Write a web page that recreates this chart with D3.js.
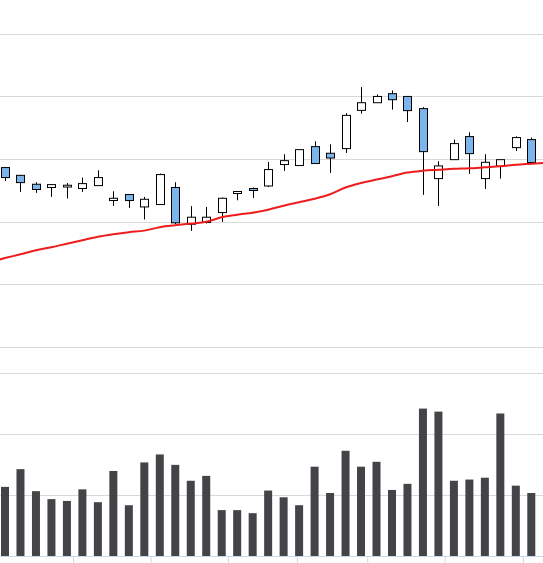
<!DOCTYPE html>
<html>
<head>
<meta charset="utf-8">
<script src="https://cdn.jsdelivr.net/npm/d3@7"></script>
<style>
  html, body { margin: 0; padding: 0; background: #fff; }
  svg { display: block; }
  .grid line { stroke: #d8d8d8; stroke-width: 1; }
  .wick { stroke: #000; stroke-width: 1; }
  .candle { stroke: #000; stroke-width: 1; }
</style>
</head>
<body>
<div id="chart"></div>
<script>
/* ============================================================
   Candlestick + SMA overlay with volume panel underneath
   ============================================================ */

// Daily OHLC, one entry per trading day
const opens  = [49.31, 48.69, 47.98, 47.72, 47.76, 47.64, 47.87, 46.68, 47.16, 46.17,
                46.36, 47.72, 44.79, 44.93, 45.72, 47.24, 47.64, 47.84, 49.55, 49.47,
                50.98, 50.45, 50.82, 53.87, 54.48, 55.20, 54.98, 54.01, 48.43, 49.94,
                51.78, 48.43, 49.41, 50.90, 51.54];
const highs  = [49.35, 48.72, 48.14, 47.97, 48.08, 48.51, 49.09, 47.42, 47.18, 46.97,
                48.83, 48.14, 46.23, 46.17, 46.92, 47.42, 47.72, 49.75, 50.37, 50.76,
                51.40, 51.16, 53.65, 55.73, 55.14, 55.46, 55.00, 54.13, 49.81, 51.54,
                52.12, 50.37, 49.96, 51.80, 51.70];
const lows   = [48.24, 47.37, 47.29, 46.97, 46.84, 47.37, 47.85, 46.25, 46.09, 45.17,
                46.34, 44.79, 44.26, 44.85, 44.98, 46.70, 46.89, 47.76, 49.04, 49.45,
                49.61, 48.88, 50.47, 53.61, 54.46, 53.93, 52.94, 47.13, 46.25, 49.92,
                48.80, 47.60, 48.43, 50.63, 49.70];
const closes = [48.51, 48.11, 47.56, 47.95, 47.90, 48.03, 48.51, 46.86, 46.68, 46.78,
                48.75, 44.90, 45.35, 45.35, 46.86, 47.40, 47.48, 49.15, 49.86, 50.74,
                49.63, 50.07, 53.47, 54.48, 54.98, 54.72, 53.85, 50.58, 49.44, 51.22,
                50.42, 49.73, 49.94, 51.70, 49.71];

// Volume in millions of shares
const volumes = [11.3, 14.2, 10.6, 9.3, 9.0, 10.9, 8.8, 13.9, 8.3, 15.3,
                 16.6, 14.9, 12.3, 13.1, 7.5, 7.5, 7.0, 10.7, 9.6, 8.3,
                 14.6, 10.3, 17.2, 14.6, 15.4, 10.8, 11.8, 24.1, 23.6, 12.3,
                 12.5, 12.8, 23.3, 11.5, 10.3];

// Moving average, from the day before the first candle to the day after the last
const smaStart = -1;
const sma = [41.77, 42.09, 42.40, 42.72, 42.96, 43.24, 43.52, 43.80, 44.00, 44.16,
             44.28, 44.55, 44.71, 44.84, 44.98, 45.35, 45.55, 45.71, 45.95, 46.27,
             46.54, 46.82, 47.18, 47.72, 48.08, 48.35, 48.62, 48.91, 49.05, 49.13,
             49.21, 49.25, 49.33, 49.41, 49.53, 49.61, 49.69];

// Week boundaries, in day units
const weekTicks = [4.4, 9.4, 14.4, 18.85, 23.4, 28.4, 33.45];

const priceTicks = [35, 40, 45, 50, 55, 60];
const volumeTicks = [10, 20, 30];

(() => {
  const width = 543;
  const height = 563;

  const days = opens.map((o, i) => ({
    i, open: o, high: highs[i], low: lows[i], close: closes[i], volume: volumes[i]
  }));
  const smaPoints = sma.map((v, k) => ({ i: smaStart + k, v }));

  const svg = d3.select('#chart')
    .append('svg')
    .attr('width', width)
    .attr('height', height);

  // Scales
  const x = d3.scaleLinear().domain([0, days.length - 1]).range([5, 531.3]);
  const yPrice = d3.scaleLinear().domain([35, 60]).range([347, 33.5]);
  const yVol = d3.scaleLinear().domain([0, 30]).range([556, 372.5]);

  const candleW = 8;
  const barW = 8;

  // Grid lines
  const grid = svg.append('g').attr('class', 'grid');
  grid.selectAll('line.p')
    .data(priceTicks)
    .join('line')
    .attr('class', 'p')
    .attr('x1', 0).attr('x2', width)
    .attr('y1', d => Math.round(yPrice(d)) + 0.5)
    .attr('y2', d => Math.round(yPrice(d)) + 0.5);
  grid.selectAll('line.v')
    .data(volumeTicks)
    .join('line')
    .attr('class', 'v')
    .attr('x1', 0).attr('x2', width)
    .attr('y1', d => Math.round(yVol(d)) + 0.5)
    .attr('y2', d => Math.round(yVol(d)) + 0.5);

  // Volume columns
  svg.append('g')
    .selectAll('rect')
    .data(days)
    .join('rect')
    .attr('x', d => x(d.i) - barW / 2)
    .attr('y', d => yVol(d.volume))
    .attr('width', barW)
    .attr('height', d => yVol(0) - yVol(d.volume))
    .attr('fill', '#434348');

  // Bottom axis (no labels, only week ticks)
  const xAxis = d3.axisBottom(x)
    .tickValues(weekTicks)
    .tickSize(8)
    .tickFormat('');
  const axisG = svg.append('g')
    .attr('transform', `translate(0,${Math.round(yVol(0)) + 0.5})`)
    .call(xAxis);
  axisG.select('.domain')
    .attr('d', `M0,0H${width}`)
    .attr('stroke', '#ccd6eb');
  axisG.selectAll('.tick line').attr('stroke', '#ccd6eb');

  // Candles
  const candle = svg.append('g')
    .selectAll('g')
    .data(days)
    .join('g');

  candle.append('line')
    .attr('class', 'wick')
    .attr('x1', d => Math.round(x(d.i)) + 0.5)
    .attr('x2', d => Math.round(x(d.i)) + 0.5)
    .attr('y1', d => yPrice(d.high))
    .attr('y2', d => yPrice(d.low));

  candle.append('rect')
    .attr('class', 'candle')
    .attr('x', d => Math.round(x(d.i) - candleW / 2) + 0.5)
    .attr('y', d => yPrice(Math.max(d.open, d.close)))
    .attr('width', candleW)
    .attr('height', d => Math.max(1, Math.abs(yPrice(d.open) - yPrice(d.close))))
    .attr('fill', d => d.close < d.open ? '#7cb5ec' : '#fff');

  // Moving average, drawn over the candles
  const line = d3.line()
    .x(d => x(d.i))
    .y(d => yPrice(d.v))
    .curve(d3.curveMonotoneX);
  svg.append('path')
    .datum(smaPoints)
    .attr('d', line)
    .attr('fill', 'none')
    .attr('stroke', '#ee1c1c')
    .attr('stroke-width', 2);
})();
</script>
</body>
</html>
